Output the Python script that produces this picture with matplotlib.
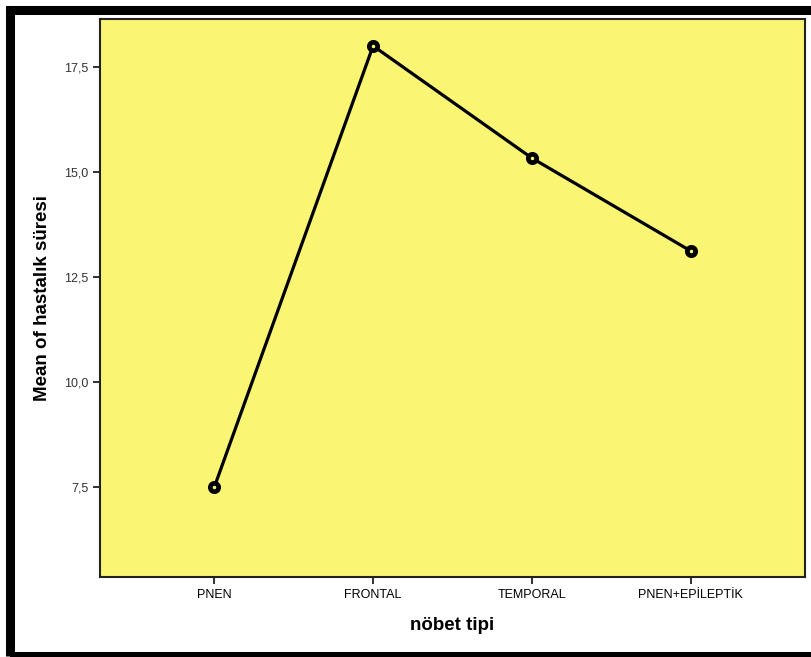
import matplotlib.pyplot as plt
from matplotlib.patches import Rectangle

# data
categories = ["PNEN", "FRONTAL", "TEMPORAL", "PNEN+EPİLEPTİK"]
means = [7.5, 18.0, 15.33, 13.12]
y_ticks = [7.5, 10.0, 12.5, 15.0, 17.5]
y_tick_labels = ["7,5", "10,0", "12,5", "15,0", "17,5"]

W, H = 811, 657
fig = plt.figure(figsize=(W / 100, H / 100), dpi=100)
plt.rcParams['font.family'] = ['Liberation Sans', 'DejaVu Sans']

# thick black frame round the whole chart
fig.patches.append(Rectangle((10 / W, 1 - 656 / H), 820 / W, 646 / H,
                             transform=fig.transFigure, fill=False,
                             edgecolor='black', linewidth=6.5))

ax = fig.add_axes([100 / W, 1 - 577 / H, 705 / W, 558 / H])
ax.set_facecolor('#fbf574')
for s in ax.spines.values():
    s.set_color('#222222')
    s.set_linewidth(1.5)

x = list(range(len(categories)))
ax.plot(x, means, color='black', linewidth=2.3, marker='o', markersize=6,
        markerfacecolor='#fbf574', markeredgecolor='black', markeredgewidth=3.4)

ax.set_xlim(-0.72, 3.72)
ax.set_ylim(5.36, 18.64)
ax.set_xticks(x)
ax.set_xticklabels(categories, fontsize=9)
ax.set_yticks(y_ticks)
ax.set_yticklabels(y_tick_labels, fontsize=9, color='#333333')
ax.tick_params(axis='both', direction='out', length=5, width=1.3, color='#222222')
ax.tick_params(axis='x', pad=4)

ax.set_xlabel("nöbet tipi", fontsize=13.5, fontweight='bold', labelpad=11)
ax.set_ylabel("Mean of hastalık süresi", fontsize=13.5, fontweight='bold', labelpad=9)

fig.savefig('out.png', dpi=100)
